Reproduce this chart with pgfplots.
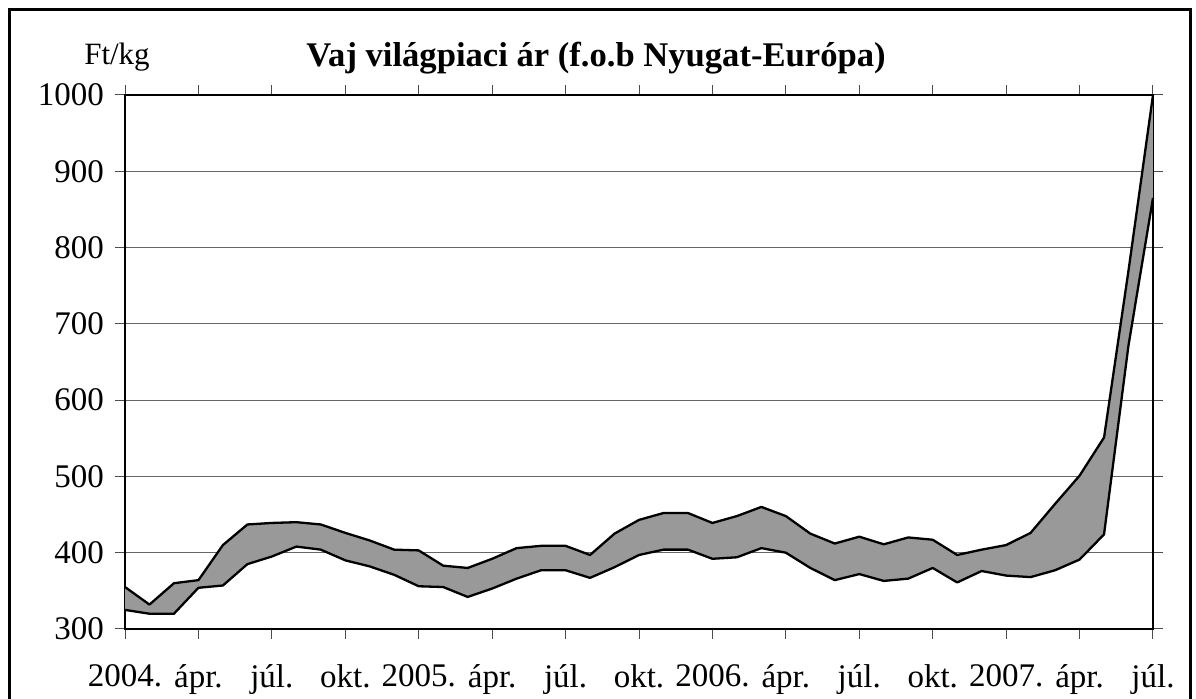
\documentclass[border=0pt]{standalone}
\usepackage{fontspec}
\setmainfont{Liberation Serif}
\usepackage{pgfplots}
\pgfplotsset{compat=1.18}
\usepackage{pgfplotstable}
\usepgfplotslibrary{fillbetween}
\definecolor{bandgray}{HTML}{999999}
\pgfplotstableread{
i u l
0 355 325
1 332 320
2 360 320
3 364 354
4 410 357
5 437 385
6 439 395
7 440 408
8 437 404
9 426 390
10 416 382
11 404 371
12 403 356
13 383 355
14 380 342
15 392 353
16 406 366
17 409 377
18 409 377
19 397 367
20 425 381
21 443 397
22 452 404
23 452 404
24 439 392
25 448 394
26 460 406
27 448 400
28 425 380
29 412 364
30 421 372
31 411 363
32 420 366
33 417 380
34 397 361
35 404 376
36 410 370
37 426 368
38 464 377
39 501 391
40 551 424
41 770 672
42 1000 865
}\data
\begin{document}
\begin{tikzpicture}
\begin{axis}[
  at={(62.5pt,35pt)}, anchor=south west,
  width=514pt, height=267pt, scale only axis,
  xmin=0, xmax=42, ymin=300, ymax=1000,
  clip=false,
  xtick={0,3,...,42},
  xticklabels={2004.,ápr.,júl.,okt.,2005.,ápr.,júl.,okt.,2006.,ápr.,júl.,okt.,2007.,ápr.,júl.},
  ytick={300,400,...,1000},
  tick align=outside,
  major tick length=5pt,
  xtick style={black!70, line width=0.5pt},
  ytick style={black!70, line width=0.5pt},
  ymajorgrids,
  grid style={black!60, line width=0.6pt},
  axis line style={black, line width=1.2pt},
  tick label style={font=\fontsize{16.5}{19}\selectfont},
  /pgf/number format/assume math mode=true,
  /pgf/number format/1000 sep={},
  xticklabel style={yshift=-9.5pt},
  yticklabel style={xshift=-2pt},
]
\addplot[draw=none, name path=U] table[x=i,y=u]{\data};
\addplot[draw=none, name path=L] table[x=i,y=l]{\data};
\addplot[fill=bandgray, draw=none] fill between[of=U and L];
\addplot[black, line width=1.15pt, line join=round] table[x=i,y=u]{\data};
\addplot[black, line width=1.15pt, line join=round] table[x=i,y=l]{\data};
\end{axis}
\node[anchor=base, font=\fontsize{15.5}{18}\selectfont] at (58.5pt,317pt) {Ft/kg};
\node[anchor=base, font=\fontsize{17.3}{20}\selectfont\bfseries] at (298pt,316pt) {Vaj világpiaci ár (f.o.b Nyugat-Európa)};
\draw[line width=1.5pt] (4.5pt,-5pt) -- (4.5pt,344.5pt) -- (595pt,344.5pt) -- (595pt,-5pt);
\pgfresetboundingbox
\path[use as bounding box] (0,0) rectangle (598pt,349.5pt);
\end{tikzpicture}
\end{document}
